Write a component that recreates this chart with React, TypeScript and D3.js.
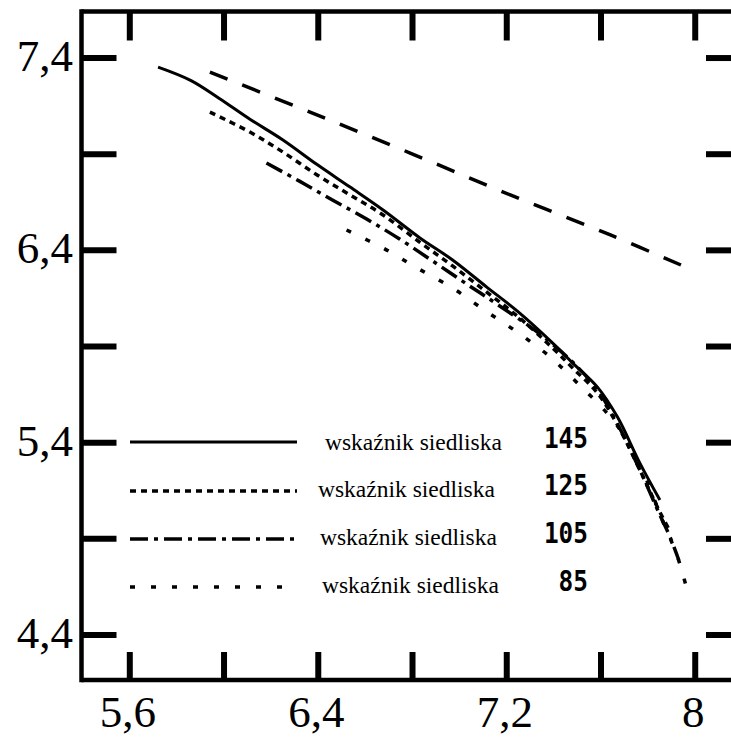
import React from 'react';
import * as d3 from 'd3';

// curves (x, y in data units)
const s145x = [5.72, 5.86, 5.98, 6.11, 6.25, 6.395, 6.535, 6.675, 6.83, 6.97, 7.115, 7.255, 7.395, 7.48, 7.585, 7.67, 7.765, 7.85];
const s145y = [7.353, 7.283, 7.19, 7.082, 6.974, 6.846, 6.729, 6.61, 6.466, 6.35, 6.209, 6.074, 5.918, 5.814, 5.689, 5.533, 5.294, 5.102];

const s125x = [5.94, 6.11, 6.25, 6.395, 6.535, 6.675, 6.83, 6.97, 7.115, 7.255, 7.395, 7.48, 7.585, 7.67, 7.765, 7.85, 7.895];
const s125y = [7.119, 7.015, 6.911, 6.792, 6.688, 6.584, 6.443, 6.319, 6.183, 6.048, 5.892, 5.788, 5.658, 5.492, 5.258, 5.039, 4.935];

const s105x = [6.18, 6.32, 6.46, 6.605, 6.745, 6.885, 7.03, 7.17, 7.33, 7.47, 7.585, 7.67, 7.765, 7.85, 7.895, 7.93];
const s105y = [6.854, 6.76, 6.662, 6.563, 6.459, 6.345, 6.225, 6.111, 5.975, 5.83, 5.674, 5.497, 5.258, 5.024, 4.904, 4.79];

const s85x = [6.52, 6.675, 6.82, 6.97, 7.11, 7.25, 7.385, 7.5, 7.625, 7.705, 7.79, 7.86, 7.925, 7.97];
const s85y = [6.506, 6.412, 6.308, 6.204, 6.085, 5.97, 5.845, 5.71, 5.554, 5.424, 5.216, 4.998, 4.806, 4.613];

// long dashed line, not in the legend
const dashX = [5.94, 6.365, 6.79, 7.215, 7.64, 7.96];
const dashY = [7.327, 7.119, 6.906, 6.688, 6.48, 6.313];

const xTicks = [5.6, 6.0, 6.4, 6.8, 7.2, 7.6, 8.0];
const xLabels = ['5,6', '', '6,4', '', '7,2', '', '8'];
const yTicks = [7.4, 6.9, 6.4, 5.9, 5.4, 4.9, 4.4];
const yLabels = ['7,4', '', '6,4', '', '5,4', '', '4,4'];

const legendNames = ['wskaźnik siedliska', 'wskaźnik siedliska', 'wskaźnik siedliska', 'wskaźnik siedliska'];
const legendValues = ['145', '125', '105', '85'];

const W = 731, H = 739;
const left = 81.5, right = 740, top = 11.5, bottom = 680;

const x = d3.scaleLinear().domain([5.395, 8.19]).range([left, right]);
const y = d3.scaleLinear().domain([4.166, 7.642]).range([bottom, top]);

const zip = (xs: number[], ys: number[]) => xs.map((v, i) => [v, ys[i]] as [number, number]);

const line = d3.line<[number, number]>()
  .x(d => x(d[0]))
  .y(d => y(d[1]))
  .curve(d3.curveCatmullRom.alpha(0.5));

const series = [
  { data: zip(s145x, s145y), dash: null, w: 3 },
  { data: zip(s125x, s125y), dash: '6,5', w: 3.5 },
  { data: zip(s105x, s105y), dash: '18,6,4,6', w: 3.5 },
  { data: zip(s85x, s85y), dash: '5,16', w: 3.5 },
];

const legendLineY = [442, 491, 539, 587];
const legendTextX = [325, 318, 320, 322];
const legendBase = [450, 497, 545, 593];

const css = `
  .lbl { font-family: 'Liberation Serif', 'Tinos', 'Times New Roman'; }
  .num { font-family: 'DejaVu Sans Mono'; font-weight: 700; }
`;

export default function App() {
  return (
    <svg width={W} height={H} viewBox={`0 0 ${W} ${H}`} style={{ position: 'absolute', left: 0, top: 0, display: 'block' }}>
      <style>{css}</style>
      <rect width={W} height={H} fill="#fff" />

      <line x1={left} x2={left} y1={top - 2.25} y2={bottom + 2.25} stroke="#000" strokeWidth={4.5} />
      <line x1={left} x2={W} y1={top} y2={top} stroke="#000" strokeWidth={4.5} />
      <line x1={left} x2={W} y1={bottom} y2={bottom} stroke="#000" strokeWidth={4.5} />

      {xTicks.map((t, i) => (
        <g key={'xt' + i}>
          <line x1={x(t)} x2={x(t)} y1={top} y2={top + 29} stroke="#000" strokeWidth={6} />
          <line x1={x(t)} x2={x(t)} y1={bottom} y2={bottom - 28} stroke="#000" strokeWidth={6} />
          {xLabels[i] && (
            <text className="lbl" x={x(t) - 2} y={727} textAnchor="middle" fontSize={45}>{xLabels[i]}</text>
          )}
        </g>
      ))}

      {yTicks.map((t, i) => (
        <g key={'yt' + i}>
          <line x1={left} x2={left + 35} y1={y(t)} y2={y(t)} stroke="#000" strokeWidth={6} />
          <line x1={W} x2={right - 34} y1={y(t)} y2={y(t)} stroke="#000" strokeWidth={6} />
          {yLabels[i] && (
            <text className="lbl" x={73} y={y(t) + 13} textAnchor="end" fontSize={45}>{yLabels[i]}</text>
          )}
        </g>
      ))}

      <path d={line(zip(dashX, dashY)) || ''} fill="none" stroke="#000" strokeWidth={3.5} strokeDasharray="19,16" />
      {series.map((s, i) => (
        <path key={'s' + i} d={line(s.data) || ''} fill="none" stroke="#000" strokeWidth={s.w}
          strokeDasharray={s.dash || undefined} />
      ))}

      {series.map((s, i) => (
        <g key={'lg' + i}>
          <line x1={130} x2={297} y1={legendLineY[i]} y2={legendLineY[i]} stroke="#000" strokeWidth={s.w}
            strokeDasharray={s.dash || undefined} />
          <text className="lbl" x={legendTextX[i]} y={legendBase[i]} fontSize={23.5}>{legendNames[i]}</text>
          <text className="num" x={588} y={legendBase[i] - 2} textAnchor="end" fontSize={28}
            textLength={legendValues[i].length * 14.7} lengthAdjust="spacingAndGlyphs">{legendValues[i]}</text>
        </g>
      ))}
    </svg>
  );
}
